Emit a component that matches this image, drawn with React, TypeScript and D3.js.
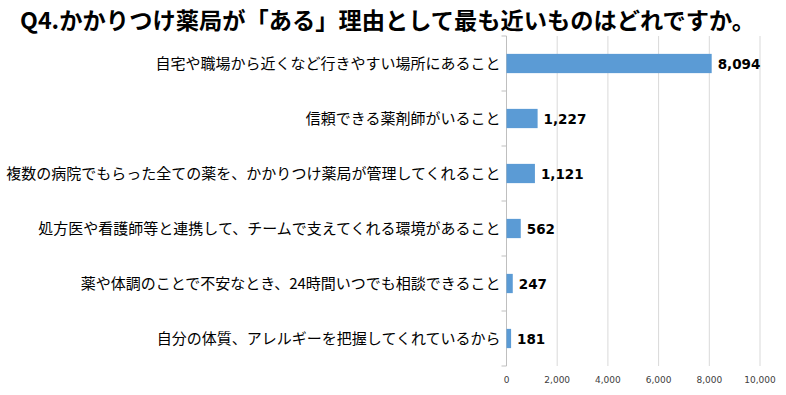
import React from "react";
import * as d3 from "d3";

const categories = [
  "自宅や職場から近くなど行きやすい場所にあること",
  "信頼できる薬剤師がいること",
  "複数の病院でもらった全ての薬を、かかりつけ薬局が管理してくれること",
  "処方医や看護師等と連携して、チームで支えてくれる環境があること",
  "薬や体調のことで不安なとき、24時間いつでも相談できること",
  "自分の体質、アレルギーを把握してくれているから",
];
const values = [8094, 1227, 1121, 562, 247, 181];
const xTicks = [0, 2000, 4000, 6000, 8000, 10000];
const title = "Q4.かかりつけ薬局が「ある」理由として最も近いものはどれですか。";

const W = 786;
const H = 395;
const left = 506.5;
const right = 760;
const top = 36;
const bottom = 366;
const font = "'Noto Sans CJK JP', 'Noto Sans', sans-serif";
const numFont = "'DejaVu Sans', Verdana, sans-serif";

export default function App() {
  const x = d3.scaleLinear().domain([0, 10000]).range([left, right]);
  const y = d3.scaleBand().domain(categories).range([top, bottom]).paddingInner(0.65).paddingOuter(0.325);
  const band = d3.scaleBand().domain(categories).range([top, bottom]);
  const fmt = d3.format(",");
  return (
    <svg width={W} height={H} style={{ position: "absolute", left: 0, top: 0, background: "#fff" }}>
      <text x={20} y={29} fontFamily={font} fontWeight="bold" fontSize={23} fill="#000" textLength={735} lengthAdjust="spacingAndGlyphs">{title}</text>
      {xTicks.map((t) => (
        <g key={t}>
          <line x1={x(t)} x2={x(t)} y1={top} y2={bottom} stroke="#d9d9d9" strokeWidth={1} />
          <text x={x(t)} y={383} textAnchor="middle" fontFamily={numFont} fontSize={9} fill="#404040">{fmt(t)}</text>
        </g>
      ))}
      <line x1={left} x2={left} y1={top} y2={bottom} stroke="#bfbfbf" />
      {categories.map((c, i) => (
        <line key={"t" + i} x1={left - 5} x2={left} y1={band(c)!} y2={band(c)!} stroke="#bfbfbf" />
      ))}
      <line x1={left - 5} x2={left} y1={bottom} y2={bottom} stroke="#bfbfbf" />
      {categories.map((c, i) => {
        const yc = (band(c) as number) + band.bandwidth() / 2;
        return (
          <g key={c}>
            <rect x={x(0)} y={y(c)} width={x(values[i]) - x(0)} height={y.bandwidth()} fill="#5b9bd5" />
            <text x={x(values[i]) + 6} y={yc + 5} fontFamily={numFont} fontWeight="bold" fontSize={13.5} fill="#000">{fmt(values[i])}</text>
            <text x={left - 6} y={yc + 5} textAnchor="end" fontFamily={font} fontSize={15} fill="#000">{c}</text>
          </g>
        );
      })}
    </svg>
  );
}
